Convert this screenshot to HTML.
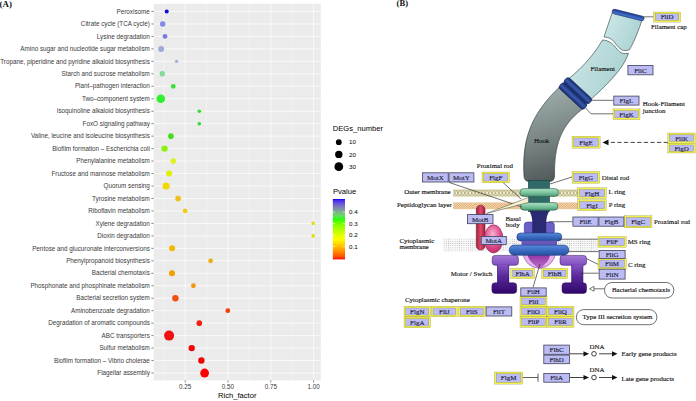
<!DOCTYPE html><html><head><meta charset="utf-8"><style>html,body{margin:0;padding:0;background:#fff;overflow:hidden}svg{display:block}</style></head><body>
<svg width="696" height="401" viewBox="0 0 696 401">
<defs>
<linearGradient id="cbar" x1="0" y1="0" x2="0" y2="1"><stop offset="0.000" stop-color="#0000ff"/><stop offset="0.025" stop-color="#422af2"/><stop offset="0.050" stop-color="#5941e5"/><stop offset="0.075" stop-color="#6855d8"/><stop offset="0.100" stop-color="#7267cb"/><stop offset="0.125" stop-color="#7978bd"/><stop offset="0.150" stop-color="#7d88af"/><stop offset="0.175" stop-color="#7d99a1"/><stop offset="0.200" stop-color="#7ca992"/><stop offset="0.225" stop-color="#77b983"/><stop offset="0.250" stop-color="#6fc972"/><stop offset="0.275" stop-color="#63d95f"/><stop offset="0.300" stop-color="#4fe947"/><stop offset="0.325" stop-color="#28fa21"/><stop offset="0.350" stop-color="#35ff00"/><stop offset="0.375" stop-color="#56ff00"/><stop offset="0.400" stop-color="#6dff00"/><stop offset="0.425" stop-color="#80ff00"/><stop offset="0.450" stop-color="#90ff00"/><stop offset="0.475" stop-color="#a0ff00"/><stop offset="0.500" stop-color="#aeff00"/><stop offset="0.525" stop-color="#bbff00"/><stop offset="0.550" stop-color="#c8ff00"/><stop offset="0.575" stop-color="#d5ff00"/><stop offset="0.600" stop-color="#e1ff00"/><stop offset="0.625" stop-color="#ecff00"/><stop offset="0.650" stop-color="#f8ff00"/><stop offset="0.675" stop-color="#fffa00"/><stop offset="0.700" stop-color="#ffed00"/><stop offset="0.725" stop-color="#ffdf00"/><stop offset="0.750" stop-color="#ffd100"/><stop offset="0.775" stop-color="#ffc300"/><stop offset="0.800" stop-color="#ffb500"/><stop offset="0.825" stop-color="#ffa600"/><stop offset="0.850" stop-color="#ff9700"/><stop offset="0.875" stop-color="#ff8800"/><stop offset="0.900" stop-color="#ff7700"/><stop offset="0.925" stop-color="#ff6500"/><stop offset="0.950" stop-color="#ff5100"/><stop offset="0.975" stop-color="#ff3700"/><stop offset="1.000" stop-color="#ff0000"/></linearGradient>
</defs>
<text x="-0.4" y="6.5" font-family='"Liberation Serif", serif' font-weight="bold" font-size="8.9" fill="#111">(A)</text>
<rect x="153.60" y="3.80" width="167.20" height="376.60" fill="#EBEBEB"/>
<line x1="163.80" y1="3.80" x2="163.80" y2="380.40" stroke="#fff" stroke-width="0.35"/>
<line x1="206.60" y1="3.80" x2="206.60" y2="380.40" stroke="#fff" stroke-width="0.35"/>
<line x1="249.40" y1="3.80" x2="249.40" y2="380.40" stroke="#fff" stroke-width="0.35"/>
<line x1="292.20" y1="3.80" x2="292.20" y2="380.40" stroke="#fff" stroke-width="0.35"/>
<line x1="185.20" y1="3.80" x2="185.20" y2="380.40" stroke="#fff" stroke-width="0.7"/>
<line x1="228.00" y1="3.80" x2="228.00" y2="380.40" stroke="#fff" stroke-width="0.7"/>
<line x1="270.80" y1="3.80" x2="270.80" y2="380.40" stroke="#fff" stroke-width="0.7"/>
<line x1="313.60" y1="3.80" x2="313.60" y2="380.40" stroke="#fff" stroke-width="0.7"/>
<line x1="153.60" y1="11.48" x2="320.80" y2="11.48" stroke="#fff" stroke-width="0.7"/>
<line x1="153.60" y1="23.95" x2="320.80" y2="23.95" stroke="#fff" stroke-width="0.7"/>
<line x1="153.60" y1="36.41" x2="320.80" y2="36.41" stroke="#fff" stroke-width="0.7"/>
<line x1="153.60" y1="48.88" x2="320.80" y2="48.88" stroke="#fff" stroke-width="0.7"/>
<line x1="153.60" y1="61.35" x2="320.80" y2="61.35" stroke="#fff" stroke-width="0.7"/>
<line x1="153.60" y1="73.81" x2="320.80" y2="73.81" stroke="#fff" stroke-width="0.7"/>
<line x1="153.60" y1="86.28" x2="320.80" y2="86.28" stroke="#fff" stroke-width="0.7"/>
<line x1="153.60" y1="98.75" x2="320.80" y2="98.75" stroke="#fff" stroke-width="0.7"/>
<line x1="153.60" y1="111.22" x2="320.80" y2="111.22" stroke="#fff" stroke-width="0.7"/>
<line x1="153.60" y1="123.68" x2="320.80" y2="123.68" stroke="#fff" stroke-width="0.7"/>
<line x1="153.60" y1="136.15" x2="320.80" y2="136.15" stroke="#fff" stroke-width="0.7"/>
<line x1="153.60" y1="148.62" x2="320.80" y2="148.62" stroke="#fff" stroke-width="0.7"/>
<line x1="153.60" y1="161.08" x2="320.80" y2="161.08" stroke="#fff" stroke-width="0.7"/>
<line x1="153.60" y1="173.55" x2="320.80" y2="173.55" stroke="#fff" stroke-width="0.7"/>
<line x1="153.60" y1="186.02" x2="320.80" y2="186.02" stroke="#fff" stroke-width="0.7"/>
<line x1="153.60" y1="198.48" x2="320.80" y2="198.48" stroke="#fff" stroke-width="0.7"/>
<line x1="153.60" y1="210.95" x2="320.80" y2="210.95" stroke="#fff" stroke-width="0.7"/>
<line x1="153.60" y1="223.42" x2="320.80" y2="223.42" stroke="#fff" stroke-width="0.7"/>
<line x1="153.60" y1="235.89" x2="320.80" y2="235.89" stroke="#fff" stroke-width="0.7"/>
<line x1="153.60" y1="248.35" x2="320.80" y2="248.35" stroke="#fff" stroke-width="0.7"/>
<line x1="153.60" y1="260.82" x2="320.80" y2="260.82" stroke="#fff" stroke-width="0.7"/>
<line x1="153.60" y1="273.29" x2="320.80" y2="273.29" stroke="#fff" stroke-width="0.7"/>
<line x1="153.60" y1="285.75" x2="320.80" y2="285.75" stroke="#fff" stroke-width="0.7"/>
<line x1="153.60" y1="298.22" x2="320.80" y2="298.22" stroke="#fff" stroke-width="0.7"/>
<line x1="153.60" y1="310.69" x2="320.80" y2="310.69" stroke="#fff" stroke-width="0.7"/>
<line x1="153.60" y1="323.16" x2="320.80" y2="323.16" stroke="#fff" stroke-width="0.7"/>
<line x1="153.60" y1="335.62" x2="320.80" y2="335.62" stroke="#fff" stroke-width="0.7"/>
<line x1="153.60" y1="348.09" x2="320.80" y2="348.09" stroke="#fff" stroke-width="0.7"/>
<line x1="153.60" y1="360.56" x2="320.80" y2="360.56" stroke="#fff" stroke-width="0.7"/>
<line x1="153.60" y1="373.02" x2="320.80" y2="373.02" stroke="#fff" stroke-width="0.7"/>
<line x1="151.4" y1="11.48" x2="153.60" y2="11.48" stroke="#333" stroke-width="0.6"/>
<line x1="151.4" y1="23.95" x2="153.60" y2="23.95" stroke="#333" stroke-width="0.6"/>
<line x1="151.4" y1="36.41" x2="153.60" y2="36.41" stroke="#333" stroke-width="0.6"/>
<line x1="151.4" y1="48.88" x2="153.60" y2="48.88" stroke="#333" stroke-width="0.6"/>
<line x1="151.4" y1="61.35" x2="153.60" y2="61.35" stroke="#333" stroke-width="0.6"/>
<line x1="151.4" y1="73.81" x2="153.60" y2="73.81" stroke="#333" stroke-width="0.6"/>
<line x1="151.4" y1="86.28" x2="153.60" y2="86.28" stroke="#333" stroke-width="0.6"/>
<line x1="151.4" y1="98.75" x2="153.60" y2="98.75" stroke="#333" stroke-width="0.6"/>
<line x1="151.4" y1="111.22" x2="153.60" y2="111.22" stroke="#333" stroke-width="0.6"/>
<line x1="151.4" y1="123.68" x2="153.60" y2="123.68" stroke="#333" stroke-width="0.6"/>
<line x1="151.4" y1="136.15" x2="153.60" y2="136.15" stroke="#333" stroke-width="0.6"/>
<line x1="151.4" y1="148.62" x2="153.60" y2="148.62" stroke="#333" stroke-width="0.6"/>
<line x1="151.4" y1="161.08" x2="153.60" y2="161.08" stroke="#333" stroke-width="0.6"/>
<line x1="151.4" y1="173.55" x2="153.60" y2="173.55" stroke="#333" stroke-width="0.6"/>
<line x1="151.4" y1="186.02" x2="153.60" y2="186.02" stroke="#333" stroke-width="0.6"/>
<line x1="151.4" y1="198.48" x2="153.60" y2="198.48" stroke="#333" stroke-width="0.6"/>
<line x1="151.4" y1="210.95" x2="153.60" y2="210.95" stroke="#333" stroke-width="0.6"/>
<line x1="151.4" y1="223.42" x2="153.60" y2="223.42" stroke="#333" stroke-width="0.6"/>
<line x1="151.4" y1="235.89" x2="153.60" y2="235.89" stroke="#333" stroke-width="0.6"/>
<line x1="151.4" y1="248.35" x2="153.60" y2="248.35" stroke="#333" stroke-width="0.6"/>
<line x1="151.4" y1="260.82" x2="153.60" y2="260.82" stroke="#333" stroke-width="0.6"/>
<line x1="151.4" y1="273.29" x2="153.60" y2="273.29" stroke="#333" stroke-width="0.6"/>
<line x1="151.4" y1="285.75" x2="153.60" y2="285.75" stroke="#333" stroke-width="0.6"/>
<line x1="151.4" y1="298.22" x2="153.60" y2="298.22" stroke="#333" stroke-width="0.6"/>
<line x1="151.4" y1="310.69" x2="153.60" y2="310.69" stroke="#333" stroke-width="0.6"/>
<line x1="151.4" y1="323.16" x2="153.60" y2="323.16" stroke="#333" stroke-width="0.6"/>
<line x1="151.4" y1="335.62" x2="153.60" y2="335.62" stroke="#333" stroke-width="0.6"/>
<line x1="151.4" y1="348.09" x2="153.60" y2="348.09" stroke="#333" stroke-width="0.6"/>
<line x1="151.4" y1="360.56" x2="153.60" y2="360.56" stroke="#333" stroke-width="0.6"/>
<line x1="151.4" y1="373.02" x2="153.60" y2="373.02" stroke="#333" stroke-width="0.6"/>
<line x1="185.20" y1="380.40" x2="185.20" y2="382.4" stroke="#333" stroke-width="0.6"/>
<line x1="228.00" y1="380.40" x2="228.00" y2="382.4" stroke="#333" stroke-width="0.6"/>
<line x1="270.80" y1="380.40" x2="270.80" y2="382.4" stroke="#333" stroke-width="0.6"/>
<line x1="313.60" y1="380.40" x2="313.60" y2="382.4" stroke="#333" stroke-width="0.6"/>
<g font-family='"Liberation Sans", sans-serif' font-size="6.3" fill="#3a3a3a" text-anchor="end">
<text x="149.8" y="13.68">Peroxisome</text>
<text x="149.8" y="26.15">Citrate cycle (TCA cycle)</text>
<text x="149.8" y="38.61">Lysine degradation</text>
<text x="149.8" y="51.08">Amino sugar and nucleotide sugar metabolism</text>
<text x="149.8" y="63.55">Tropane, piperidine and pyridine alkaloid biosynthesis</text>
<text x="149.8" y="76.02">Starch and sucrose metabolism</text>
<text x="149.8" y="88.48">Plant–pathogen interaction</text>
<text x="149.8" y="100.95">Two–component system</text>
<text x="149.8" y="113.42">Isoquinoline alkaloid biosynthesis</text>
<text x="149.8" y="125.88">FoxO signaling pathway</text>
<text x="149.8" y="138.35">Valine, leucine and isoleucine biosynthesis</text>
<text x="149.8" y="150.82">Biofilm formation – Escherichia coli</text>
<text x="149.8" y="163.28">Phenylalanine metabolism</text>
<text x="149.8" y="175.75">Fructose and mannose metabolism</text>
<text x="149.8" y="188.22">Quorum sensing</text>
<text x="149.8" y="200.68">Tyrosine metabolism</text>
<text x="149.8" y="213.15">Riboflavin metabolism</text>
<text x="149.8" y="225.62">Xylene degradation</text>
<text x="149.8" y="238.09">Dioxin degradation</text>
<text x="149.8" y="250.55">Pentose and glucuronate interconversions</text>
<text x="149.8" y="263.02">Phenylpropanoid biosynthesis</text>
<text x="149.8" y="275.49">Bacterial chemotaxis</text>
<text x="149.8" y="287.95">Phosphonate and phosphinate metabolism</text>
<text x="149.8" y="300.42">Bacterial secretion system</text>
<text x="149.8" y="312.89">Aminobenzoate degradation</text>
<text x="149.8" y="325.36">Degradation of aromatic compounds</text>
<text x="149.8" y="337.82">ABC transporters</text>
<text x="149.8" y="350.29">Sulfur metabolism</text>
<text x="149.8" y="362.76">Biofilm formation – Vibrio cholerae</text>
<text x="149.8" y="375.22">Flagellar assembly</text>
</g>
<g font-family='"Liberation Sans", sans-serif' font-size="6.3" fill="#3a3a3a" text-anchor="middle">
<text x="185.20" y="388.6">0.25</text>
<text x="228.00" y="388.6">0.50</text>
<text x="270.80" y="388.6">0.75</text>
<text x="313.60" y="388.6">1.00</text>
</g>
<text x="237.3" y="397.8" font-family='"Liberation Sans", sans-serif' font-size="7.6" fill="#000" text-anchor="middle">Rich_factor</text>
<circle cx="166.70" cy="11.48" r="2.00" fill="#0a0ad8"/>
<circle cx="162.70" cy="23.95" r="2.70" fill="#8686e6"/>
<circle cx="165.00" cy="36.41" r="2.40" fill="#7a7ad6"/>
<circle cx="161.20" cy="48.88" r="3.00" fill="#a0a8dc"/>
<circle cx="176.60" cy="61.35" r="1.70" fill="#a0b4d8"/>
<circle cx="162.30" cy="73.81" r="2.70" fill="#84d898"/>
<circle cx="173.20" cy="86.28" r="2.40" fill="#38e038"/>
<circle cx="160.80" cy="98.75" r="4.30" fill="#30f030"/>
<circle cx="199.30" cy="111.22" r="1.80" fill="#30e030"/>
<circle cx="199.30" cy="123.68" r="1.80" fill="#30d830"/>
<circle cx="170.90" cy="136.15" r="2.80" fill="#40e020"/>
<circle cx="164.50" cy="148.62" r="3.20" fill="#90f010"/>
<circle cx="173.20" cy="161.08" r="2.80" fill="#e0f020"/>
<circle cx="169.10" cy="173.55" r="3.00" fill="#e0f000"/>
<circle cx="166.10" cy="186.02" r="3.60" fill="#f0d800"/>
<circle cx="178.10" cy="198.48" r="2.80" fill="#f0c010"/>
<circle cx="185.10" cy="210.95" r="2.40" fill="#f0d010"/>
<circle cx="313.20" cy="223.42" r="1.80" fill="#e0e010"/>
<circle cx="313.20" cy="235.89" r="1.80" fill="#e0e010"/>
<circle cx="172.10" cy="248.35" r="3.00" fill="#f0b800"/>
<circle cx="210.60" cy="260.82" r="2.40" fill="#e8b010"/>
<circle cx="172.00" cy="273.29" r="3.00" fill="#f0a000"/>
<circle cx="193.40" cy="285.75" r="2.40" fill="#f09810"/>
<circle cx="175.40" cy="298.22" r="3.20" fill="#f05010"/>
<circle cx="227.80" cy="310.69" r="2.40" fill="#f04010"/>
<circle cx="199.30" cy="323.16" r="2.80" fill="#f02010"/>
<circle cx="169.10" cy="335.62" r="5.00" fill="#f01010"/>
<circle cx="191.70" cy="348.09" r="3.20" fill="#f00808"/>
<circle cx="201.40" cy="360.56" r="3.20" fill="#f00505"/>
<circle cx="204.60" cy="373.02" r="4.40" fill="#ff0000"/>
<text x="332.8" y="131.2" font-family='"Liberation Sans", sans-serif' font-size="7.6" fill="#000">DEGs_number</text>
<circle cx="338.8" cy="142.20" r="2.90" fill="#000"/>
<text x="349" y="144.40" font-family='"Liberation Sans", sans-serif' font-size="6.2" fill="#000">10</text>
<circle cx="338.8" cy="154.40" r="3.70" fill="#000"/>
<text x="349" y="156.60" font-family='"Liberation Sans", sans-serif' font-size="6.2" fill="#000">20</text>
<circle cx="338.8" cy="166.70" r="4.40" fill="#000"/>
<text x="349" y="168.90" font-family='"Liberation Sans", sans-serif' font-size="6.2" fill="#000">30</text>
<text x="333" y="194" font-family='"Liberation Sans", sans-serif' font-size="7.6" fill="#000">Pvalue</text>
<rect x="332.8" y="199" width="12.2" height="60.4" fill="url(#cbar)"/>
<line x1="332.8" y1="212.00" x2="335.2" y2="212.00" stroke="#fff" stroke-width="0.5"/>
<line x1="342.6" y1="212.00" x2="345" y2="212.00" stroke="#fff" stroke-width="0.5"/>
<text x="349" y="214.20" font-family='"Liberation Sans", sans-serif' font-size="6.2" fill="#000">0.4</text>
<line x1="332.8" y1="223.60" x2="335.2" y2="223.60" stroke="#fff" stroke-width="0.5"/>
<line x1="342.6" y1="223.60" x2="345" y2="223.60" stroke="#fff" stroke-width="0.5"/>
<text x="349" y="225.80" font-family='"Liberation Sans", sans-serif' font-size="6.2" fill="#000">0.3</text>
<line x1="332.8" y1="235.10" x2="335.2" y2="235.10" stroke="#fff" stroke-width="0.5"/>
<line x1="342.6" y1="235.10" x2="345" y2="235.10" stroke="#fff" stroke-width="0.5"/>
<text x="349" y="237.30" font-family='"Liberation Sans", sans-serif' font-size="6.2" fill="#000">0.2</text>
<line x1="332.8" y1="246.60" x2="335.2" y2="246.60" stroke="#fff" stroke-width="0.5"/>
<line x1="342.6" y1="246.60" x2="345" y2="246.60" stroke="#fff" stroke-width="0.5"/>
<text x="349" y="248.80" font-family='"Liberation Sans", sans-serif' font-size="6.2" fill="#000">0.1</text>
<defs>
<pattern id="om" width="3.4" height="8" patternUnits="userSpaceOnUse" x="453" y="189"><rect width="3.4" height="8" fill="#f4f0d0"/><path d="M0,1 L3.4,7 M3.4,1 L0,7" stroke="#8a8456" stroke-width="0.6" fill="none"/><circle cx="1.7" cy="0.9" r="0.5" fill="#8a8456"/><circle cx="1.7" cy="7.1" r="0.5" fill="#8a8456"/></pattern>
<pattern id="pg" width="2.4" height="2.4" patternUnits="userSpaceOnUse" x="453" y="202.5"><rect width="2.4" height="2.4" fill="#faf0dc"/><rect width="1.2" height="1.2" fill="#d8964c"/><rect x="1.2" y="1.2" width="1.2" height="1.2" fill="#d8964c"/></pattern>
<pattern id="cm" width="2.2" height="2.2" patternUnits="userSpaceOnUse" x="443" y="238"><rect width="2.2" height="2.2" fill="#fafafa"/><circle cx="1.1" cy="1.1" r="0.5" fill="#b4b4b4"/></pattern>
<linearGradient id="fil" x1="0" y1="0" x2="1" y2="0.4"><stop offset="0" stop-color="#d0eaea"/><stop offset="1" stop-color="#acd2d2"/></linearGradient>
<linearGradient id="hook" x1="0.3" y1="0" x2="0.5" y2="1"><stop offset="0" stop-color="#a2b0b0"/><stop offset="0.5" stop-color="#7c8888"/><stop offset="1" stop-color="#505858"/></linearGradient>
<linearGradient id="sph2" x1="0" y1="0" x2="0" y2="1"><stop offset="0" stop-color="#8a2a9a"/><stop offset="1" stop-color="#c070d0"/></linearGradient>
<linearGradient id="jring" x1="0" y1="0" x2="0" y2="1"><stop offset="0" stop-color="#15296a"/><stop offset="0.5" stop-color="#3a5cae"/><stop offset="1" stop-color="#15296a"/></linearGradient>
<linearGradient id="gring" x1="0" y1="0" x2="0" y2="1"><stop offset="0" stop-color="#b0e4c8"/><stop offset="0.5" stop-color="#7cc6a0"/><stop offset="1" stop-color="#4e9a78"/></linearGradient>
<linearGradient id="bring" x1="0" y1="0" x2="0" y2="1"><stop offset="0" stop-color="#5a8ad8"/><stop offset="0.5" stop-color="#3a6cc4"/><stop offset="1" stop-color="#24509c"/></linearGradient>
<linearGradient id="cring" x1="0" y1="0" x2="0" y2="1"><stop offset="0" stop-color="#a070d0"/><stop offset="0.3" stop-color="#7a48b8"/><stop offset="1" stop-color="#3a0a70"/></linearGradient>
<radialGradient id="sph" cx="0.5" cy="0.75" r="0.6"><stop offset="0" stop-color="#9a2aa8"/><stop offset="0.45" stop-color="#c070d0"/><stop offset="1" stop-color="#f0c8f4"/></radialGradient>
<radialGradient id="mota" cx="0.45" cy="0.35" r="0.65"><stop offset="0" stop-color="#f8b8d0"/><stop offset="0.6" stop-color="#e05090"/><stop offset="1" stop-color="#c0306a"/></radialGradient>
<linearGradient id="motb" x1="0" y1="0" x2="1" y2="0"><stop offset="0" stop-color="#a02040"/><stop offset="0.5" stop-color="#e04a68"/><stop offset="1" stop-color="#a02040"/></linearGradient>
<marker id="ah" markerWidth="6" markerHeight="6" refX="5" refY="3" orient="auto" markerUnits="userSpaceOnUse"><path d="M0,0.6 L5,3 L0,5.4 Z" fill="#111"/></marker>
</defs>
<text x="396.6" y="6" font-family='"Liberation Serif", serif' font-weight="bold" font-size="8.6" fill="#111">(B)</text>
<rect x="453.2" y="189" width="125" height="8" fill="url(#om)"/>
<rect x="453.2" y="202.4" width="125" height="6.8" fill="url(#pg)"/>
<rect x="443" y="238.4" width="155.5" height="13.2" fill="url(#cm)"/>
<path d="M612.3,12.5 C609,22 606,31 604,37 C609,37.2 612,39 615,43 C619,48 621,50.5 625,50.6 C627,50.6 628.5,50 629.6,49.5 C634,42 638.5,31 642.5,18.5 Z" fill="url(#fil)" stroke="#2a3a3a" stroke-width="0.6"/>
<path d="M602.5,40 C607,40.3 611,42 614.5,46 C618,50.5 620.5,53.5 625,53.6 L628.4,53.4 C624,68 606,86 589,101 L562,84 C578,72 592,58 602.5,40 Z" fill="url(#fil)" stroke="#2a3a3a" stroke-width="0.6"/>
<linearGradient id="capg" x1="0" y1="0" x2="0" y2="1"><stop offset="0" stop-color="#1e3a8a"/><stop offset="0.6" stop-color="#3a66c0"/><stop offset="1" stop-color="#4a7ad0"/></linearGradient>
<rect x="-16.4" y="-2.3" width="32.8" height="4.6" rx="2.3" transform="translate(628.1,15) rotate(14)" fill="url(#capg)" stroke="#16286a" stroke-width="0.6"/>
<path d="M524,176 C522,140 530,115 560.5,86 L584.5,107.5 C565,122 554,138 554.5,176 Q554.5,181.5 549,181.5 L529.5,181.5 Q524,181.5 524,176 Z" fill="url(#hook)" stroke="#2a3434" stroke-width="0.6"/>
<g transform="translate(575.4,93.4) rotate(42.7)">
<rect x="-17" y="-7.3" width="34" height="7.3" rx="3.2" fill="url(#jring)" stroke="#0e1c50" stroke-width="0.6"/>
<rect x="-17" y="0" width="34" height="7.3" rx="3.2" fill="url(#jring)" stroke="#0e1c50" stroke-width="0.6"/>
</g>
<rect x="528.4" y="180.5" width="21.1" height="31" fill="#2f6a68" stroke="#163e3c" stroke-width="0.6"/>
<rect x="520" y="188.6" width="38.6" height="7.8" rx="3.9" fill="url(#gring)" stroke="#2a5a46" stroke-width="0.6"/>
<rect x="520.3" y="202.6" width="37.6" height="7.6" rx="3.8" fill="url(#gring)" stroke="#2a5a46" stroke-width="0.6"/>
<rect x="524.3" y="222.1" width="30" height="12.4" rx="3" fill="#6a60c8" stroke="#3a3088" stroke-width="0.6"/>
<path d="M530,211.2 L548.7,211.2 Q546,216 545.8,222 L545.8,233.5 L532.7,233.5 L532.7,222 Q532.5,216 530,211.2 Z" fill="#2a2a72" stroke="#16164a" stroke-width="0.5"/>
<circle cx="539.2" cy="252" r="16.2" fill="#e6b0ec" stroke="#7a3a8a" stroke-width="0.5"/>
<path d="M527.5,252 C527.5,260 534,264 539.6,268.4 C545,264 550,260 550,252 Z" fill="url(#sph2)" stroke="#6a2a7a" stroke-width="0.4"/>
<rect x="516.8" y="233" width="45" height="7.9" rx="3.9" fill="url(#bring)" stroke="#1c3a84" stroke-width="0.6"/>
<rect x="521.5" y="240.6" width="35.5" height="4.6" fill="#6a58b8"/>
<rect x="509.2" y="245.1" width="59.6" height="10.2" rx="5" fill="url(#bring)" stroke="#1c3a84" stroke-width="0.6"/>
<linearGradient id="cstem" x1="0" y1="0" x2="0" y2="1"><stop offset="0" stop-color="#7040b0"/><stop offset="1" stop-color="#34086a"/></linearGradient>
<linearGradient id="cgrad" gradientUnits="userSpaceOnUse" x1="0" y1="255" x2="0" y2="293.5"><stop offset="0" stop-color="#a47ad6"/><stop offset="0.25" stop-color="#8452c2"/><stop offset="0.55" stop-color="#5a2a9c"/><stop offset="1" stop-color="#30066a"/></linearGradient>
<g fill="url(#cgrad)" stroke="#2a0a58" stroke-width="0.5">
<rect x="497.5" y="263.8" width="11.3" height="20" stroke="none"/>
<rect x="491.9" y="282.8" width="24.8" height="10.6" rx="3.2"/>
<rect x="492.2" y="255.4" width="26.2" height="9.9" rx="3"/>
<rect x="497.5" y="264.8" width="11.3" height="18.4" stroke="none"/>
<path d="M497.5,264.8 L497.5,283.3 M508.8,264.8 L508.8,283.3"/>
</g>
<g fill="url(#cgrad)" stroke="#2a0a58" stroke-width="0.5">
<rect x="571.7" y="263.8" width="11.3" height="20" stroke="none"/>
<rect x="562.0" y="282.8" width="24.5" height="10.6" rx="3.2"/>
<rect x="560.0" y="255.4" width="26.5" height="9.9" rx="3"/>
<rect x="571.7" y="264.8" width="11.3" height="18.4" stroke="none"/>
<path d="M571.7,264.8 L571.7,283.3 M583.0,264.8 L583.0,283.3"/>
</g>
<rect x="476.3" y="205.2" width="8.7" height="44.9" rx="4.3" fill="url(#motb)" stroke="#701830" stroke-width="0.6"/>
<ellipse cx="493.6" cy="238.9" rx="9.4" ry="14.1" fill="url(#mota)" stroke="#902050" stroke-width="0.6"/>
<path d="M643,16.8 L653.5,16.8" stroke="#333" stroke-width="0.7" fill="none"/>
<path d="M590,100.3 L613.4,100.3" stroke="#333" stroke-width="0.7" fill="none"/>
<path d="M585.5,108 L591,113.8 L613,113.8" stroke="#333" stroke-width="0.7" fill="none"/>
<path d="M667.8,142.4 L606,142.4" stroke="#111" stroke-width="0.8" stroke-dasharray="4.2,2.4"/>
<path d="M602.5,142.4 L608.5,139.6 L608.5,145.2 Z" fill="#111"/>
<path d="M550,184 L572,177" stroke="#333" stroke-width="0.7" fill="none"/>
<path d="M502,181.6 L521,199" stroke="#333" stroke-width="0.7" fill="none"/>
<path d="M449,182.4 L522,207" stroke="#333" stroke-width="0.7" fill="none"/>
<path d="M486.5,213.5 L528.5,197.4 L528.5,202.4 Z" fill="#f4f0d4" stroke="#4a4a30" stroke-width="0.5"/>
<path d="M549,221.7 L572.5,221.7" stroke="#333" stroke-width="0.7" fill="none"/>
<path d="M559,239.2 L598.5,239.2" stroke="#333" stroke-width="0.7" fill="none"/>
<path d="M568,251.6 L598.7,251.6" stroke="#333" stroke-width="0.7" fill="none"/>
<path d="M586.7,258.7 L598.7,264.7" stroke="#333" stroke-width="0.7" fill="none"/>
<path d="M580,273.2 L598.7,273.2" stroke="#333" stroke-width="0.7" fill="none"/>
<path d="M540,264 L533,287.5" stroke="#333" stroke-width="0.7" fill="none"/>
<path d="M589.5,288.8 L594,286.4 L594,291.2 Z" fill="#fff" stroke="#222" stroke-width="0.6"/>
<path d="M594,288.8 L604.5,288.8" stroke="#333" stroke-width="0.7" fill="none"/>
<path d="M569.8,353.8 L584.5,353.8" stroke="#111" stroke-width="0.8"/>
<path d="M589,353.8 L583.5,351.2 L583.5,356.4 Z" fill="#111"/>
<circle cx="594" cy="353.8" r="2.3" fill="#fff" stroke="#111" stroke-width="0.8"/>
<path d="M599,353.8 L612.5,353.8" stroke="#111" stroke-width="0.8"/>
<path d="M617.5,353.8 L612,351.2 L612,356.4 Z" fill="#111"/>
<path d="M569.8,377.5 L584.5,377.5" stroke="#111" stroke-width="0.8"/>
<path d="M589,377.5 L583.5,374.9 L583.5,380.1 Z" fill="#111"/>
<circle cx="594" cy="377.5" r="2.3" fill="#fff" stroke="#111" stroke-width="0.8"/>
<path d="M599,377.5 L612.5,377.5" stroke="#111" stroke-width="0.8"/>
<path d="M617.5,377.5 L612,374.9 L612,380.1 Z" fill="#111"/>
<path d="M522.8,377.5 L538,377.5 M538,373.6 L538,381.6" stroke="#333" stroke-width="0.8"/>
<rect x="604.5" y="282.5" width="69.3" height="15.5" rx="7.5" fill="#fff" stroke="#333" stroke-width="0.7"/>
<rect x="576.3" y="309.6" width="80.6" height="15.1" rx="7.5" fill="#fff" stroke="#333" stroke-width="0.7"/>
<g font-family='"Liberation Serif", serif' font-size="7" fill="#1c1c34" stroke="#1c1c34" stroke-width="0.15" text-anchor="middle">
<rect x="653.50" y="12.00" width="27.20" height="10.10" fill="#f2f048"/>
<rect x="655.30" y="13.80" width="23.60" height="6.50" fill="#bcbcf4"/>
<text x="667.10" y="19.45">FliD</text>
<rect x="613.00" y="108.90" width="27.00" height="10.80" fill="#f2f048"/>
<rect x="614.80" y="110.70" width="23.40" height="7.20" fill="#bcbcf4"/>
<text x="626.50" y="116.70">FlgK</text>
<rect x="667.80" y="133.00" width="27.60" height="10.20" fill="#f2f048"/>
<rect x="669.60" y="134.80" width="24.00" height="6.60" fill="#bcbcf4"/>
<text x="681.60" y="140.50">FliK</text>
<rect x="667.80" y="143.20" width="27.60" height="9.80" fill="#f2f048"/>
<rect x="669.60" y="145.00" width="24.00" height="6.20" fill="#bcbcf4"/>
<text x="681.60" y="150.50">FlgD</text>
<rect x="572.00" y="136.20" width="28.10" height="12.00" fill="#f2f048"/>
<rect x="573.80" y="138.00" width="24.50" height="8.40" fill="#bcbcf4"/>
<text x="586.05" y="144.60">FlgE</text>
<rect x="482.00" y="172.00" width="27.50" height="10.80" fill="#f2f048"/>
<rect x="483.80" y="173.80" width="23.90" height="7.20" fill="#bcbcf4"/>
<text x="495.75" y="179.80">FlgF</text>
<rect x="572.00" y="171.40" width="27.70" height="12.00" fill="#f2f048"/>
<rect x="573.80" y="173.20" width="24.10" height="8.40" fill="#bcbcf4"/>
<text x="585.85" y="179.80">FlgG</text>
<rect x="577.70" y="187.60" width="28.70" height="11.00" fill="#f2f048"/>
<rect x="579.50" y="189.40" width="25.10" height="7.40" fill="#bcbcf4"/>
<text x="592.05" y="195.50">FlgH</text>
<rect x="577.70" y="199.60" width="28.70" height="11.10" fill="#f2f048"/>
<rect x="579.50" y="201.40" width="25.10" height="7.50" fill="#bcbcf4"/>
<text x="592.05" y="207.55">FlgI</text>
<rect x="624.30" y="215.60" width="27.70" height="12.30" fill="#f2f048"/>
<rect x="626.10" y="217.40" width="24.10" height="8.70" fill="#bcbcf4"/>
<text x="638.15" y="224.15">FlgC</text>
<rect x="598.00" y="236.40" width="28.20" height="10.90" fill="#f2f048"/>
<rect x="599.80" y="238.20" width="24.60" height="7.30" fill="#bcbcf4"/>
<text x="612.10" y="244.25">FliF</text>
<rect x="598.00" y="258.20" width="28.20" height="11.00" fill="#f2f048"/>
<rect x="599.80" y="260.00" width="24.60" height="7.40" fill="#bcbcf4"/>
<text x="612.10" y="266.10">FliM</text>
<rect x="510.80" y="268.30" width="23.80" height="10.30" fill="#f2f048"/>
<rect x="512.60" y="270.10" width="20.20" height="6.70" fill="#bcbcf4"/>
<text x="522.70" y="275.85">FlhA</text>
<rect x="541.50" y="268.30" width="26.30" height="10.30" fill="#f2f048"/>
<rect x="543.30" y="270.10" width="22.70" height="6.70" fill="#bcbcf4"/>
<text x="554.65" y="275.85">FlhB</text>
<rect x="520.00" y="296.20" width="27.00" height="10.30" fill="#f2f048"/>
<rect x="521.80" y="298.00" width="23.40" height="6.70" fill="#bcbcf4"/>
<text x="533.50" y="303.75">FliI</text>
<rect x="520.00" y="306.20" width="27.00" height="10.40" fill="#f2f048"/>
<rect x="521.80" y="308.00" width="23.40" height="6.80" fill="#bcbcf4"/>
<text x="533.50" y="313.80">FliO</text>
<rect x="520.00" y="316.40" width="27.00" height="11.00" fill="#f2f048"/>
<rect x="521.80" y="318.20" width="23.40" height="7.40" fill="#bcbcf4"/>
<text x="533.50" y="324.30">FliP</text>
<rect x="547.00" y="306.20" width="27.00" height="10.40" fill="#f2f048"/>
<rect x="548.80" y="308.00" width="23.40" height="6.80" fill="#bcbcf4"/>
<text x="560.50" y="313.80">FliQ</text>
<rect x="547.00" y="316.40" width="27.00" height="11.00" fill="#f2f048"/>
<rect x="548.80" y="318.20" width="23.40" height="7.40" fill="#bcbcf4"/>
<text x="560.50" y="324.30">FliR</text>
<rect x="404.00" y="306.20" width="26.60" height="10.60" fill="#f2f048"/>
<rect x="405.80" y="308.00" width="23.00" height="7.00" fill="#bcbcf4"/>
<text x="417.30" y="313.90">FlgN</text>
<rect x="431.20" y="306.20" width="26.20" height="10.60" fill="#f2f048"/>
<rect x="433.00" y="308.00" width="22.60" height="7.00" fill="#bcbcf4"/>
<text x="444.30" y="313.90">FliJ</text>
<rect x="458.60" y="306.20" width="26.60" height="10.60" fill="#f2f048"/>
<rect x="460.40" y="308.00" width="23.00" height="7.00" fill="#bcbcf4"/>
<text x="471.90" y="313.90">FliS</text>
<rect x="404.00" y="317.00" width="26.60" height="10.80" fill="#f2f048"/>
<rect x="405.80" y="318.80" width="23.00" height="7.20" fill="#bcbcf4"/>
<text x="417.30" y="324.80">FlgA</text>
<rect x="494.40" y="372.00" width="28.40" height="12.10" fill="#f2f048"/>
<rect x="496.20" y="373.80" width="24.80" height="8.50" fill="#bcbcf4"/>
<text x="508.60" y="380.45">FlgM</text>
<rect x="627.90" y="65.50" width="25.10" height="9.30" fill="#bcbcf4" stroke="#40405a" stroke-width="0.8"/>
<text x="640.45" y="72.55">FliC</text>
<rect x="613.80" y="96.10" width="25.20" height="9.00" fill="#bcbcf4" stroke="#40405a" stroke-width="0.8"/>
<text x="626.40" y="103.00">FlgL</text>
<rect x="422.50" y="172.80" width="25.70" height="9.20" fill="#bcbcf4" stroke="#40405a" stroke-width="0.8"/>
<text x="435.35" y="179.80">MotX</text>
<rect x="449.00" y="172.80" width="24.90" height="9.20" fill="#bcbcf4" stroke="#40405a" stroke-width="0.8"/>
<text x="461.45" y="179.80">MotY</text>
<rect x="467.40" y="214.60" width="25.60" height="9.10" fill="#bcbcf4" stroke="#40405a" stroke-width="0.8"/>
<text x="480.20" y="221.55">MotB</text>
<rect x="481.20" y="236.40" width="25.10" height="8.20" fill="#bcbcf4" stroke="#40405a" stroke-width="0.8"/>
<text x="493.75" y="242.90">MotA</text>
<rect x="572.90" y="217.00" width="25.20" height="9.20" fill="#bcbcf4" stroke="#40405a" stroke-width="0.8"/>
<text x="585.50" y="224.00">FliE</text>
<rect x="598.90" y="217.00" width="25.00" height="9.20" fill="#bcbcf4" stroke="#40405a" stroke-width="0.8"/>
<text x="611.40" y="224.00">FlgB</text>
<rect x="599.15" y="250.40" width="25.95" height="7.95" fill="#bcbcf4" stroke="#40405a" stroke-width="0.8"/>
<text x="612.12" y="256.77">FliG</text>
<rect x="599.15" y="269.15" width="25.95" height="9.95" fill="#bcbcf4" stroke="#40405a" stroke-width="0.8"/>
<text x="612.12" y="276.52">FliN</text>
<rect x="520.80" y="287.90" width="25.40" height="8.20" fill="#bcbcf4" stroke="#40405a" stroke-width="0.8"/>
<text x="533.50" y="294.40">FliH</text>
<rect x="486.10" y="306.90" width="25.70" height="9.10" fill="#bcbcf4" stroke="#40405a" stroke-width="0.8"/>
<text x="498.95" y="313.85">FliT</text>
<rect x="543.80" y="345.10" width="25.60" height="9.20" fill="#bcbcf4" stroke="#40405a" stroke-width="0.8"/>
<text x="556.60" y="352.10">FlhC</text>
<rect x="543.80" y="355.10" width="25.60" height="8.60" fill="#bcbcf4" stroke="#40405a" stroke-width="0.8"/>
<text x="556.60" y="361.80">FlhD</text>
<rect x="543.80" y="373.50" width="25.60" height="8.70" fill="#bcbcf4" stroke="#40405a" stroke-width="0.8"/>
<text x="556.60" y="380.25">FliA</text>
</g>
<g font-family='"Liberation Serif", serif' font-size="6.9" fill="#151515" stroke="#151515" stroke-width="0.15">
<text x="651.0" y="29.0">Filament cap</text>
<text x="590.5" y="71.0">Filament</text>
<text x="642.8" y="106.2">Hook-Filament</text>
<text x="642.8" y="113.0">junction</text>
<text x="534.0" y="143.4">Hook</text>
<text x="476.8" y="168.2">Proximal rod</text>
<text x="601.8" y="179.5">Distal rod</text>
<text x="608.5" y="193.5">L ring</text>
<text x="608.7" y="207.0">P ring</text>
<text x="404.2" y="194.1">Outer membrane</text>
<text x="397.0" y="207.0">Peptidoglycan layer</text>
<text x="505.5" y="221.0">Basal</text>
<text x="505.8" y="227.2">body</text>
<text x="399.4" y="242.7">Cytoplasmic</text>
<text x="399.6" y="248.8">membrane</text>
<text x="653.9" y="224.1">Proximal rod</text>
<text x="627.7" y="243.9">MS ring</text>
<text x="628.0" y="267.0">C ring</text>
<text x="450.8" y="275.5">Motor / Switch</text>
<text x="612.0" y="292.0">Bacterial chemotaxis</text>
<text x="405.0" y="302.2">Cytoplasmic chaperone</text>
<text x="582.6" y="318.9">Type III secretion system</text>
<text x="589.6" y="348.6">DNA</text>
<text x="589.6" y="372.2">DNA</text>
<text x="621.6" y="356.0">Early gene products</text>
<text x="621.6" y="380.6">Late gene products</text>
</g>
</svg></body></html>
